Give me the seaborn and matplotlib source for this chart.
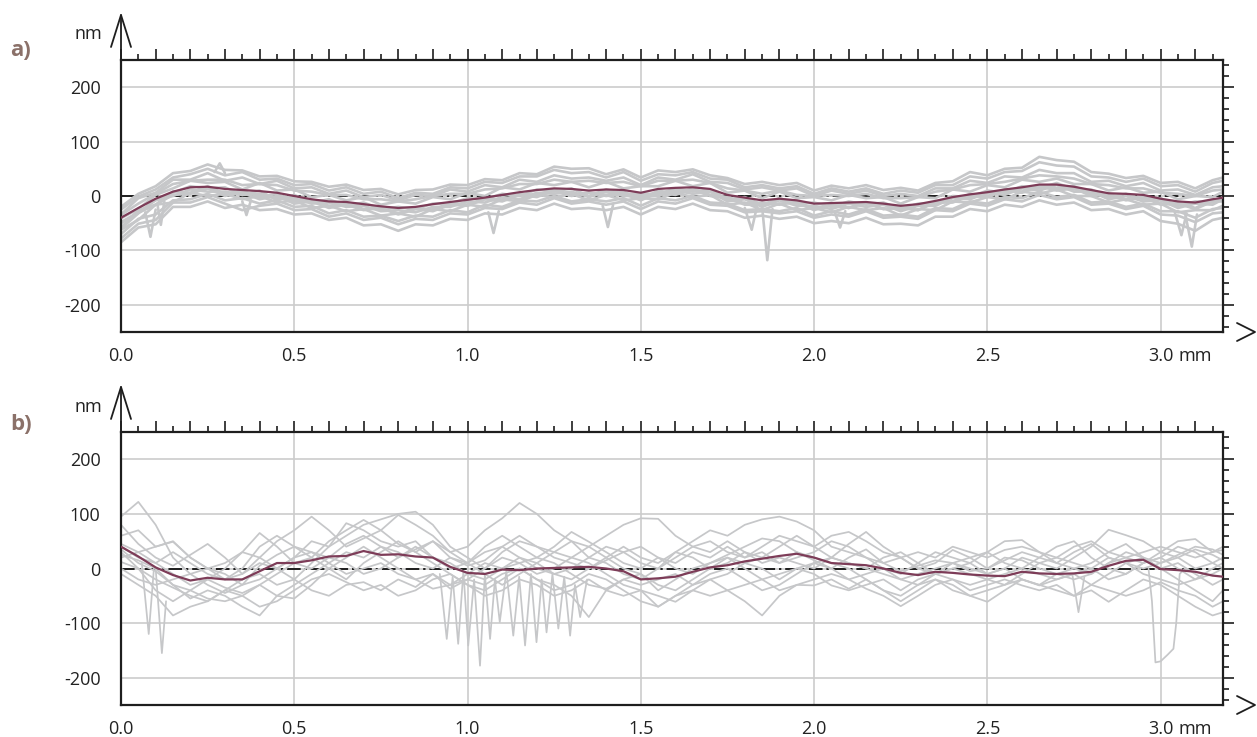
import numpy as np
import pandas as pd
import seaborn as sns
import matplotlib.pyplot as plt
from matplotlib.ticker import MultipleLocator, FuncFormatter
from matplotlib.lines import Line2D

# sample positions along the profile (mm): 0.00 ... 3.15 step 0.05, then 3.18
x_mm = np.r_[np.arange(0, 3.16, 0.05), 3.18]

# ---------------- panel a) : heights in nm, one group = 0.25 mm ----------------
mean_a = [-40, -22, -5, 8, 16,   17, 13, 11, 9, 6,   0, -6, -10, -11, -15,
          -19, -22, -20, -15, -11,   -7, -3, 2, 7, 11,   14, 13, 10, 12, 11,
          6, 13, 15, 16, 13,   2, -3, -8, -5, -8,   -14, -13, -12, -11, -14,
          -18, -15, -9, -2, 3,   7, 12, 16, 21, 21,   17, 11, 5, 4, 2,
          -5, -10, -12, -6, -3]

prof_a1 = [-20, 4, 18, 42, 46,   58, 48, 47, 36, 37,   27, 26, 17, 21, 11,
           13, 3, 11, 12, 21,   20, 31, 29, 42, 40,   54, 50, 51, 40, 49,
           34, 47, 44, 49, 38,   33, 22, 26, 20, 24,   10, 19, 14, 20, 11,
           15, 10, 24, 27, 44,   38, 50, 52, 72, 66,   63, 44, 41, 33, 37,
           24, 26, 14, 29, 34]
prof_a2 = [-34, -4, 6, 30, 30,   42, 28, 34, 22, 28,   14, 16, 4, 10, -2,
           2, -8, 2, 0, 12,   8, 20, 16, 30, 26,   38, 32, 34, 28, 34,
           20, 34, 30, 40, 26,   24, 12, 16, 10, 14,   0, 10, 4, 10, 0,
           4, 0, 14, 14, 28,   24, 36, 34, 48, 42,   42, 26, 28, 18, 24,
           10, 12, 2, 16, 18]
prof_a3 = [-41, -24, 2, 14, 28,   24, 26, 12, 24, 10,   12, -2, 2, -8, -2,
           -16, -10, -14, -2, -6,   6, 0, 16, 12, 24,   20, 26, 16, 26, 14,
           18, 18, 28, 18, 24,   6, 10, -4, 8, -4,   -2, -8, 2, -4, -2,
           -14, -2, -4, 12, 8,   20, 16, 30, 26, 32,   22, 22, 10, 16, 6,
           8, -6, 0, -2, 8]
prof_a4 = [-58, -26, -16, 8, 6,   18, 4, 10, -2, 4,   -10, -8, -18, -14, -24,
           -22, -32, -22, -26, -12,   -16, -4, -8, 4, 2,   12, 2, 6, 2, 8,
           -6, 10, 4, 14, 2,   -2, -14, -12, -16, -10,   -24, -16, -22, -12, -24,
           -22, -26, -12, -12, 0,   -2, 10, 6, 18, 10,   14, 0, 2, -8, -2,
           -16, -14, -24, -10, -10]
prof_a5 = [-62, -44, -16, -12, 6,   0, 4, -6, 0, -12,   -8, -22, -18, -28, -24,
           -36, -32, -38, -24, -28,   -16, -20, -6, -10, 2,   -2, 4, -8, 2, -8,
           -4, -6, 6, -2, 2,   -16, -12, -26, -14, -26,   -22, -30, -20, -26, -22,
           -36, -24, -26, -10, -12,   -2, -6, 8, 4, 12,   0, 0, -12, -6, -16,
           -14, -30, -26, -26, -18]
prof_a6 = [-78, -51, -44, -12, -12,   -2, -14, -26, -18, -14,   -26, -24, -38, -32, -44,
           -40, -52, -42, -44, -32,   -34, -22, -24, -12, -16,   -4, -14, -10, -16, -10,
           -24, -10, -14, -4, -16,   -18, -30, -28, -32, -28,   -40, -34, -38, -28, -40,
           -38, -42, -26, -28, -14,   -18, -6, -10, 2, -6,   -2, -16, -14, -24, -18,
           -34, -36, -48, -32, -30]
prof_a7 = [-85, -58, -52, -20, -20,   -10, -22, -16, -26, -24,   -34, -32, -44, -40, -54,
           -52, -64, -52, -54, -42,   -44, -32, -34, -22, -26,   -14, -24, -22, -26, -20,
           -34, -20, -24, -14, -26,   -28, -40, -36, -42, -38,   -50, -46, -50, -40, -52,
           -51, -54, -38, -38, -24,   -28, -16, -20, -8, -16,   -12, -26, -24, -34, -28,
           -46, -51, -64, -44, -40]
prof_a8 = [-50, -31, -16, 2, 4,   14, 0, 6, -6, 0,   -14, -10, -22, -16, -26,
           -22, -34, -24, -28, -16,   -18, -6, -10, 2, -2,   10, 0, 6, 0, 4,
           -8, 6, 2, 12, 0,   -4, -16, -16, -14, -12,   -26, -16, -22, -12, -24,
           -20, -26, -10, -10, 4,   0, 12, 8, 20, 14,   18, 4, 4, -6, 0,
           -14, -12, -22, -8, -6]
prof_a9 = [-25, -1, 12, 34, 40,   50, 38, 44, 30, 32,   20, 22, 10, 16, 4,
           8, -4, 6, 4, 16,   14, 26, 24, 36, 36,   48, 42, 44, 34, 44,
           28, 40, 38, 44, 32,   30, 16, 20, 14, 18,   4, 14, 8, 14, 4,
           10, 6, 20, 20, 36,   32, 44, 46, 62, 56,   54, 36, 34, 26, 32,
           18, 20, 8, 24, 28]
prof_a10 = [-60, -32, -6, 6, 18,   14, 16, 2, 10, -8,   2, -12, -6, -18, -12,
            -24, -20, -24, -14, -14,   -4, -6, 4, 0, 12,   8, 14, 0, 12, 4,
            4, 4, 14, 8, 12,   -6, -2, -16, -4, -14,   -12, -20, -10, -16, -12,
            -24, -14, -14, 0, -2,   10, 6, 18, 14, 24,   12, 12, -2, 4, -6,
            -4, -18, -10, -12, -2]
prof_a11 = [-70, -42, -34, -8, -6,   4, -8, -4, -14, -8,   -20, -18, -32, -26, -38,
            -36, -46, -36, -38, -26,   -30, -16, -20, -8, -10,   0, -10, -6, -10, -4,
            -18, -4, -8, 0, -12,   -14, -26, -24, -28, -22,   -36, -28, -34, -24, -36,
            -34, -38, -22, -24, -10,   -14, -2, -4, 8, -2,   2, -12, -10, -20, -14,
            -28, -28, -40, -24, -22]
prof_a12 = [-35, -14, 4, 22, 28,   30, 30, 20, 22, 20,   10, 8, 2, 2, -6,
            -6, -10, -6, 0, 4,   4, 12, 14, 22, 22,   30, 26, 28, 24, 26,
            18, 28, 28, 30, 24,   14, 10, 4, 10, 2,   0, 2, 0, 4, -4,
            -4, -2, 8, 12, 20,   22, 26, 32, 38, 36,   32, 22, 20, 14, 14,
            6, 4, 0, 10, 12]
prof_a13 = [-48, -30, -8, 0, 12,   8, 8, 2, 4, -4,   -4, -14, -12, -20, -18,
            -28, -26, -30, -20, -20,   -10, -12, -2, -6, 6,   4, 8, -2, 8, 0,
            0, 0, 10, 4, 8,   -10, -6, -20, -8, -18,   -18, -24, -14, -20, -16,
            -28, -18, -18, -4, -6,   6, 2, 14, 10, 20,   8, 8, -6, 0, -10,
            -8, -22, -14, -16, -6]

# narrow spikes in panel a) (own x positions)
spikes_a = [
    ([0.07, 0.085, 0.10], [-30, -75, -25]),
    ([0.105, 0.115, 0.125], [-15, -53, -10]),
    ([0.27, 0.285, 0.30], [44, 60, 42]),
    ([0.35, 0.362, 0.375], [-10, -35, -8]),
    ([1.06, 1.075, 1.09], [-30, -68, -28]),
    ([1.39, 1.405, 1.42], [-18, -57, -16]),
    ([1.80, 1.82, 1.835], [-22, -62, -20]),
    ([1.85, 1.865, 1.88], [-20, -118, -24]),
    ([2.06, 2.075, 2.09], [-30, -58, -28]),
    ([3.04, 3.06, 3.075], [-28, -72, -32]),
    ([3.07, 3.09, 3.105], [-30, -93, -34]),
]

# ---------------- panel b) ----------------
mean_b = [40, 22, 2, -12, -22,   -17, -20, -20, -5, 10,   10, 15, 22, 23, 32,
          25, 26, 22, 20, 3,   -8, -10, -2, -3, 0,   1, 2, 3, 0, -5,
          -20, -18, -15, -6, 2,   6, 13, 18, 23, 27,   20, 10, 8, 6, 0,
          -8, -12, -6, -8, -11,   -13, -14, -6, -9, -10,   -9, -6, 5, 14, 16,
          -1, -3, -6, -13, -15]

prof_b1 = [95, 122, 80, 20, -10,   -30, -45, -30, 5, 25,   40, 30, 20, 45, 60,
           40, 20, 35, 50, 20,   5, 15, 40, 60, 40,   20, 10, 0, 15, 30,
           40, 20, 0, -10, 10,   25, 40, 55, 50, 30,   15, 0, 20, 35, 10,
           -5, 5, 15, 10, -5,   0, 20, 15, 0, -10,   0, 10, 30, 45, 20,
           10, 20, 35, 25, 15]
prof_b2 = [80, 45, 20, 5, 25,   45, 20, -10, 20, 50,   70, 95, 70, 40, 55,
           70, 45, 30, 50, 30,   40, 70, 92, 120, 100,   70, 50, 20, 10, -10,
           -20, 0, 30, 20, 0,   10, 30, 20, 40, 60,   40, 20, 45, 67, 40,
           20, 0, 10, 34, 20,   0, 15, 30, 20, 10,   30, 45, 20, 10, 0,
           10, 25, 40, 35, 25]
prof_b3 = [45, 30, 40, 50, 20,   0, -20, -10, 10, 0,   20, 50, 40, 60, 80,
           90, 100, 104, 80, 40,   20, 0, 30, 50, 40,   30, 50, 40, 60, 80,
           92, 91, 60, 40, 30,   50, 30, 10, 20, 10,   0, 20, 10, 0, 20,
           30, 10, -10, 0, 10,   30, 50, 52, 30, 10,   0, -10, 10, 20, 10,
           30, 50, 54, 30, 34]
prof_b4 = [35, 10, -5, -30, -40,   -20, 0, 30, 65, 40,   10, 0, 20, 10, -10,
           0, 20, 40, 20, 10,   -10, 10, 0, 20, 10,   -10, -20, 0, 20, 40,
           20, 10, 30, 50, 70,   60, 80, 90, 95, 86,   70, 40, 30, 20, 0,
           -10, 10, 30, 20, 10,   -10, 0, 20, 10, 0,   20, 40, 71, 61, 50,
           30, 20, 0, 10, 20]
prof_b5 = [30, 0, -40, -60, -40,   -55, -60, -50, -30, -10,   10, 20, 0, -20, 10,
           30, 50, 30, 10, -10,   -30, -40, -20, 0, -20,   -40, -30, -10, -20, -40,
           -60, -70, -50, -30, -10,   0, -20, -40, -30, -10,   10, 0, -20, -10, 0,
           -20, -30, -10, 0, -10,   -20, -10, 0, -10, -20,   -10, -30, -10, 10, 20,
           0, -20, -40, -60, -40]
prof_b6 = [25, 15, 0, -30, -55,   -40, -50, -70, -86, -50,   -30, -10, 10, 30, 20,
           40, 30, 10, 0, 20,   10, -10, -30, -10, 10,   30, 20, 40, 20, 0,
           -10, -30, -40, -20, 0,   20, 10, 0, -20, 0,   -10, -31, -40, -30, -20,
           -40, -20, -10, -20, -30,   -20, -30, -10, 10, 20,   10, 0, -20, -10, 10,
           20, 0, -20, -10, 0]
prof_b7 = [20, 30, 10, -10, -30,   -20, -35, -45, -30, -50,   -55, -30, 0, 20, 40,
           20, 0, -20, -10, -30,   -20, 0, 20, 10, -10,   0, 20, 10, -10, -30,
           -40, -50, -61, -40, -20,   -10, 10, 20, 10, 30,   20, 10, 0, -20, -40,
           -50, -30, -20, -40, -50,   -61, -40, -20, -30, -10,   -20, -10, 10, 30, 20,
           0, 10, -10, -30, -20]
prof_b8 = [12, 0, -20, -35, -50,   -60, -40, -20, -10, -30,   -20, -40, -50, -30, -25,
           -40, -20, -34, -10, -37,   -20, -30, -10, 0, -20,   -30, -50, -89, -40, -20,
           -30, -20, -10, -30, -20,   -40, -30, -20, -40, -30,   -20, -10, -20, -37, -50,
           -69, -50, -30, -20, -40,   -30, -20, -31, -40, -30,   -50, -40, -61, -40, -20,
           -30, -50, -70, -86, -80]
prof_b9 = [60, 70, 40, 49, 20,   0, 10, 30, 20, 0,   -20, 10, 40, 83, 70,
           50, 40, 50, 20, 0,   10, 40, 60, 40, 20,   40, 67, 49, 30, 10,
           0, 20, 10, 30, 20,   40, 20, 30, 10, 20,   30, 50, 40, 20, 10,
           20, 0, -10, 10, 20,   30, 10, 0, 20, 40,   50, 20, 0, -10, 10,
           20, 40, 30, 10, 0]
prof_b10 = [0, -20, -30, -20, -10,   0, -10, -30, -20, 0,   20, 30, 10, -10, 0,
            10, -10, -20, -37, -30,   -10, -20, 0, 10, 20,   10, -10, -30, -37, -20,
            -10, -40, -20, 0, 10,   20, 0, -20, -10, 0,   10, 20, 10, 0, -10,
            -20, -10, 0, 10, 0,   -10, 0, -20, -31, -20,   -10, 0, 20, 10, -10,
            -20, -30, -20, 0, 10]
prof_b11 = [40, 20, 10, 30, 10,   -10, -20, 0, 40, 60,   40, 20, 50, 70, 89,
            70, 98, 80, 60, 30,   10, 30, 40, 20, 0,   -10, 0, 20, 40, 30,
            10, 0, 20, 40, 50,   30, 20, 40, 60, 50,   40, 60, 67, 50, 30,
            20, 30, 20, 40, 30,   20, 34, 40, 30, 20,   40, 50, 30, 20, 30,
            40, 30, 20, 30, 40]
prof_b12 = [-10, -30, -50, -86, -70,   -60, -40, -50, -70, -60,   -40, -20, -10, -25, -40,
            -30, -50, -40, -20, -10,   -30, -50, -40, -20, -30,   -50, -40, -20, -40, -50,
            -40, -70, -50, -40, -50,   -40, -60, -86, -50, -30,   -31, -20, -37, -20, -40,
            -60, -40, -20, -30, -50,   -40, -30, -20, -30, -40,   -50, -30, -40, -50, -40,
            -25, -40, -50, -70, -60]

# spikes / oscillating segment / trough in panel b) (own x positions)
spikes_b = [
    ([0.06, 0.08, 0.095], [10, -120, 0]),
    ([0.10, 0.118, 0.13], [0, -155, -60]),
    ([0.92, 0.94, 0.957, 0.973, 0.988, 1.002, 1.019, 1.036, 1.05, 1.065,
      1.079, 1.093, 1.112, 1.132, 1.149, 1.166, 1.183, 1.199, 1.214, 1.228,
      1.245, 1.262, 1.279, 1.296, 1.31, 1.325, 1.345],
     [-10, -129, -15, -138, -5, -141, -20, -178, -10, -129,
      -20, -98, -5, -123, -15, -141, -10, -135, -20, -117,
      -10, -110, -15, -123, -30, -89, -20]),
    ([2.745, 2.763, 2.78], [-10, -80, -15]),
    ([2.965, 2.975, 2.985, 3.00, 3.02, 3.037, 3.045, 3.055, 3.07],
     [0, -60, -172, -170, -158, -147, -100, -10, 0]),
]

profiles_a = [prof_a1, prof_a2, prof_a3, prof_a4, prof_a5, prof_a6, prof_a7,
              prof_a8, prof_a9, prof_a10, prof_a11, prof_a12, prof_a13]
profiles_b = [prof_b1, prof_b2, prof_b3, prof_b4, prof_b5, prof_b6,
              prof_b7, prof_b8, prof_b9, prof_b10, prof_b11, prof_b12]

GRAY = '#c6c7c9'
MEAN = '#7d3c58'
INK = '#1e1e1e'
GRID = '#cccccc'
W, H = 1257, 737


def long_frame(profiles, extras):
    parts = []
    for k, ys in enumerate(profiles):
        parts.append(pd.DataFrame({'x': x_mm, 'y': ys, 'unit': k}))
    for k, (xs, ys) in enumerate(extras):
        parts.append(pd.DataFrame({'x': xs, 'y': ys, 'unit': 100 + k}))
    return pd.concat(parts, ignore_index=True)


def x_label(v, pos):
    r = v / 0.5
    if abs(r - round(r)) < 1e-6 and v < 3.1:
        return f'{v:.1f}'
    return ''


def draw_panel(ax, profiles, extras, mean, lw):
    ax.set_xlim(0, 3.18)
    ax.set_ylim(-250, 250)
    for xv in np.arange(0.5, 3.1, 0.5):
        ax.axvline(xv, color=GRID, lw=1.2, zorder=0)
    for yv in (-200, -100, 0, 100, 200):
        ax.axhline(yv, color=GRID, lw=1.2, zorder=0)
    ax.axhline(0, color=INK, lw=1.4, ls=(0, (7, 2, 1.2, 2)), zorder=1)

    df = long_frame(profiles, extras)
    sns.lineplot(data=df, x='x', y='y', units='unit', estimator=None,
                 color=GRAY, lw=lw, ax=ax, zorder=2)
    sns.lineplot(x=x_mm, y=mean, color=MEAN, lw=1.6, ax=ax, zorder=4)

    ax.set_xlabel('')
    ax.set_ylabel('')
    ax.xaxis.set_major_locator(MultipleLocator(0.1))
    ax.xaxis.set_minor_locator(MultipleLocator(0.05))
    ax.xaxis.set_major_formatter(FuncFormatter(x_label))
    ax.yaxis.set_major_locator(MultipleLocator(100))
    ax.yaxis.set_minor_locator(MultipleLocator(20))
    ax.tick_params(which='both', direction='out', top=True, right=True,
                   labeltop=False, labelright=False, color=INK, width=1.2,
                   labelcolor='#222222', labelsize=13)
    ax.tick_params(which='major', length=7.8)
    ax.tick_params(which='minor', length=4.2)
    ax.tick_params(axis='x', pad=3)
    ax.tick_params(axis='y', pad=7)
    for s in ax.spines.values():
        s.set_visible(True)
        s.set_color(INK)
        s.set_linewidth(1.6)
    ax.annotate('mm', xy=(3.0, 0), xycoords=('data', 'axes fraction'),
                xytext=(13, -10.8), textcoords='offset points',
                ha='left', va='top', fontsize=13, color='#222222')


def fig_line(fig, xs, ys):
    fig.add_artist(Line2D([x / W for x in xs], [1 - y / H for y in ys],
                          transform=fig.transFigure, color=INK, lw=1.3))


sns.set_style('white')
plt.rcParams['font.family'] = ['Open Sans', 'DejaVu Sans']
plt.rcParams['axes.unicode_minus'] = False

fig = plt.figure(figsize=(W / 100, H / 100), dpi=100)
ax_a = fig.add_axes([121 / W, 1 - 332 / H, 1102 / W, 272 / H])
ax_b = fig.add_axes([121 / W, 1 - 705 / H, 1102 / W, 273 / H])

draw_panel(ax_a, profiles_a, spikes_a, mean_a, 1.9)
draw_panel(ax_b, profiles_b, spikes_b, mean_b, 1.25)

# axis arrows and panel labels
for top, bottom, label, label_y, nm_y in [(60, 332, 'a)', 50, 34), (432, 705, 'b)', 424, 407)]:
    tip = top - 45
    fig_line(fig, [121, 121], [top, tip])
    fig_line(fig, [111, 121, 131], [tip + 32, tip, tip + 32])
    fig_line(fig, [1237, 1255, 1237], [bottom - 9, bottom, bottom + 9])
    fig.text(88 / W, 1 - nm_y / H, 'nm', ha='center', va='center',
             fontsize=13, color='#222222')
    fig.text(10 / W, 1 - label_y / H, label, ha='left', va='center',
             fontsize=16, fontweight='bold', color='#8b7169')

fig.savefig('out.png', dpi=100)
